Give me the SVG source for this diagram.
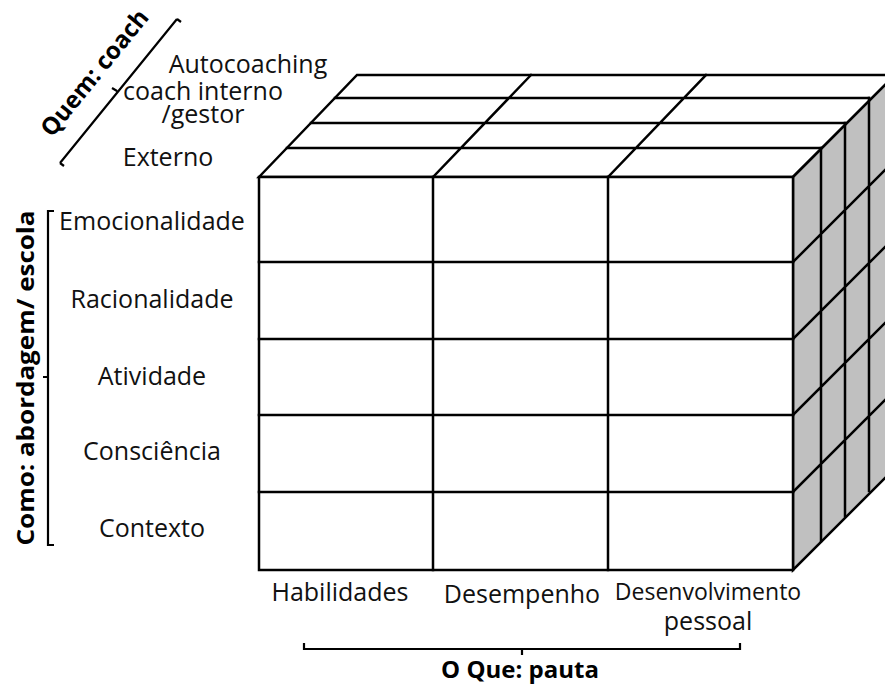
<svg xmlns="http://www.w3.org/2000/svg" width="885" height="685" viewBox="0 0 885 685">
<style>
.ln{stroke:#000;stroke-width:2.5;fill:none;stroke-linecap:square}
.face{stroke:#000;stroke-width:2.5;stroke-linejoin:miter}
.lbl{font-family:"Open Sans","Liberation Sans",sans-serif;font-size:25px;fill:#111;text-anchor:middle}
.ttl{font-family:"Open Sans","Liberation Sans",sans-serif;font-size:24px;font-weight:bold;fill:#000;text-anchor:middle}
.br{stroke:#000;stroke-width:2.2;fill:none}
</style>
<rect width="885" height="685" fill="#fff"/>
<g id="cube">
  <g id="top-face">
    <polygon class="face" fill="#fff" points="259,177 357,75 895,75 793,177"/>
    <path class="ln" d="M287,148 H821 M311,123 H845 M335,98 H869 M433,177 L531,75 M608,177 L706,75"/>
  </g>
  <g id="side-face">
    <polygon class="face" fill="#c0c0c0" points="793,177 895,75 895,468 793,570"/>
    <path class="ln" d="M821,148 V541 M845,123 V516 M869,98 V491 M793,262 L895,160 M793,339 L895,237 M793,415 L895,313 M793,492 L895,390"/>
  </g>
  <g id="front-face">
    <rect class="face" fill="#fff" x="259" y="177" width="534" height="393"/>
    <path class="ln" d="M259,262 H793 M259,339 H793 M259,415 H793 M259,492 H793 M433,177 V570 M608,177 V570"/>
  </g>
</g>
<g id="quem">
  <path class="br" d="M60,163 L177,19 M60,163 L64,166 M177,19 L181,22 M117,91 L112,88"/>
  <text class="ttl" transform="translate(101,78) rotate(-50.9)">Quem: coach</text>
  <text class="lbl" x="248" y="73">Autocoaching</text>
  <text class="lbl" x="203" y="100">coach interno</text>
  <text class="lbl" x="203" y="123">/gestor</text>
  <text class="lbl" x="168" y="166">Externo</text>
</g>
<g id="como">
  <path class="br" d="M54,211 H48 V545 H54 M48,377 H43"/>
  <text class="ttl" transform="translate(34,378) rotate(-90)" textLength="335" lengthAdjust="spacingAndGlyphs">Como: abordagem/ escola</text>
  <text class="lbl" x="152" y="230">Emocionalidade</text>
  <text class="lbl" x="152" y="308">Racionalidade</text>
  <text class="lbl" x="152" y="385">Atividade</text>
  <text class="lbl" x="152" y="460">Consciência</text>
  <text class="lbl" x="152" y="537">Contexto</text>
</g>
<g id="oque">
  <path class="br" d="M304,643 V649 H740 V643 M522,649 V655"/>
  <text class="lbl" x="340" y="601">Habilidades</text>
  <text class="lbl" x="522" y="603">Desempenho</text>
  <text class="lbl" x="708" y="600" style="font-size:23px">Desenvolvimento</text>
  <text class="lbl" x="708" y="630">pessoal</text>
  <text class="ttl" x="520" y="678">O Que: pauta</text>
</g>
</svg>
